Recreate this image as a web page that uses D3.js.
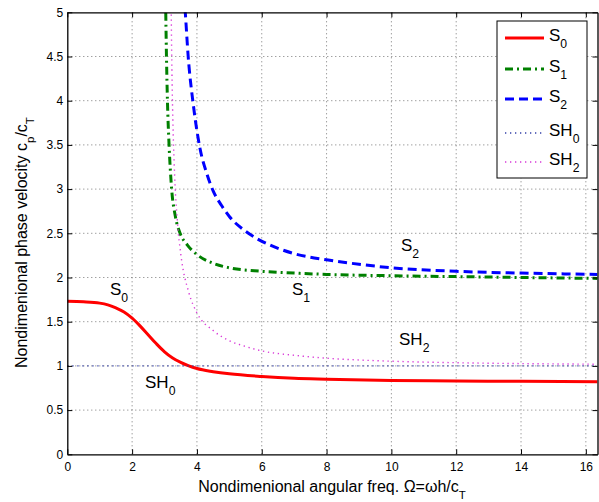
<!DOCTYPE html>
<html><head><meta charset="utf-8">
<script src="https://cdn.jsdelivr.net/npm/d3@7"></script>
<style>
body{margin:0;background:#fff}
svg text{font-family:"Liberation Sans",Arial,Helvetica,sans-serif;fill:#000}
</style></head><body>
<svg id="chart" width="599" height="502"></svg>
<script>
// Axis ticks
const xTicks = [0, 2, 4, 6, 8, 10, 12, 14, 16];
const yTicks = [0, 0.5, 1, 1.5, 2, 2.5, 3, 3.5, 4, 4.5, 5];
const yTickLabels = ["0", "0.5", "1", "1.5", "2", "2.5", "3", "3.5", "4", "4.5", "5"];

// Dispersion curves: nondimensional frequency vs. phase velocity
const s0Freq = [0, 0.5, 1.0, 1.25, 1.5, 1.75, 2.0, 2.25, 2.5, 2.75, 3.0, 3.25, 3.5, 3.75, 4.0, 4.5, 5.0, 6.0, 7.0, 8.0, 10, 12, 14, 16.36];
const s0Vel  = [1.73, 1.725, 1.71, 1.69, 1.655, 1.61, 1.54, 1.45, 1.35, 1.25, 1.16, 1.09, 1.04, 1.0, 0.97, 0.935, 0.91, 0.88, 0.86, 0.85, 0.835, 0.83, 0.825, 0.82];

const s1Freq = [3.03, 3.06, 3.09, 3.14, 3.22, 3.33, 3.48, 3.7, 4.0, 4.5, 5.0, 6.0, 7.0, 8.0, 10, 12, 14, 16.36];
const s1Vel  = [5.2, 4.5, 4.0, 3.5, 3.0, 2.7, 2.5, 2.37, 2.26, 2.16, 2.11, 2.07, 2.05, 2.035, 2.02, 2.01, 2.0, 1.99];

const s2Freq = [3.6, 3.64, 3.73, 3.89, 4.1, 4.3, 4.5, 4.75, 5.0, 5.44, 5.85, 6.3, 7.0, 8.0, 9.0, 10, 12, 14, 16.36];
const s2Vel  = [5.2, 5.0, 4.5, 3.95, 3.45, 3.18, 2.98, 2.82, 2.69, 2.54, 2.44, 2.36, 2.27, 2.2, 2.15, 2.11, 2.07, 2.05, 2.035];

const sh0Freq = [0, 16.36];
const sh0Vel  = [1.0, 1.0];

const sh2Freq = [3.2, 3.22, 3.25, 3.3, 3.4, 3.5, 3.75, 4.0, 4.5, 5.0, 5.5, 6.0, 7.0, 8.0, 9.0, 10, 12, 14, 16.36];
const sh2Vel  = [5.26, 4.56, 3.9, 3.27, 2.62, 2.27, 1.83, 1.6, 1.4, 1.285, 1.22, 1.17, 1.12, 1.087, 1.067, 1.053, 1.036, 1.026, 1.019];

const modes = [
  {name: "S", sub: "0", freq: s0Freq, vel: s0Vel, color: "#ff0000", width: 3, dash: null},
  {name: "S", sub: "1", freq: s1Freq, vel: s1Vel, color: "#008000", width: 3, dash: "8,4,2,4"},
  {name: "S", sub: "2", freq: s2Freq, vel: s2Vel, color: "#0000ff", width: 3, dash: "9,5"},
  {name: "SH", sub: "0", freq: sh0Freq, vel: sh0Vel, color: "#3440a8", width: 1.4, dash: "1.3,3.7"},
  {name: "SH", sub: "2", freq: sh2Freq, vel: sh2Vel, color: "#d838d8", width: 1.4, dash: "1.3,3.7"}
];

// In-plot curve labels
const curveLabels = [
  {name: "S", sub: "0", x: 110, y: 295},
  {name: "SH", sub: "0", x: 145, y: 388},
  {name: "S", sub: "1", x: 292, y: 295},
  {name: "S", sub: "2", x: 401, y: 251},
  {name: "SH", sub: "2", x: 399, y: 345}
];

const svg = d3.select("#chart");
const L = 67.3, R = 597.5, T = 12.3, B = 454.3;
const x = d3.scaleLinear().domain([0, 16.36]).range([L, R]);
const y = d3.scaleLinear().domain([0, 5]).range([B, T]);

// Write text with TeX-like subscripts
function richText(sel, parts, size) {
  parts.forEach(p => {
    if (typeof p === "string") {
      sel.append("tspan").attr("font-size", size).attr("dy", sel.property("_sub") ? -size * 0.42 : 0).text(p);
      sel.property("_sub", false);
    } else {
      sel.append("tspan").attr("font-size", size * 0.72).attr("dy", size * 0.42).text(p.sub);
      sel.property("_sub", true);
    }
  });
}

// Grid
const grid = svg.append("g").attr("stroke", "#555").attr("stroke-width", 0.8).attr("stroke-dasharray", "1,3");
grid.selectAll("line.gx").data(xTicks.filter(d => d > 0)).join("line")
  .attr("x1", d => x(d)).attr("x2", d => x(d)).attr("y1", B).attr("y2", T);
grid.selectAll("line.gy").data(yTicks.filter(d => d > 0 && d < 5)).join("line")
  .attr("y1", d => y(d)).attr("y2", d => y(d)).attr("x1", L).attr("x2", R);

// Curves
svg.append("clipPath").attr("id", "plotClip").append("rect")
  .attr("x", L).attr("y", T).attr("width", R - L).attr("height", B - T);
const line = d3.line().x(d => x(d[0])).y(d => y(d[1])).curve(d3.curveMonotoneX);
const curves = svg.append("g").attr("clip-path", "url(#plotClip)");
modes.forEach(m => {
  curves.append("path")
    .attr("d", line(d3.zip(m.freq, m.vel)))
    .attr("fill", "none").attr("stroke", m.color).attr("stroke-width", m.width)
    .attr("stroke-dasharray", m.dash);
});

// Axes (ticks inside, box on)
const fmtY = (d) => yTickLabels[yTicks.indexOf(d)];
const axB = svg.append("g").attr("transform", `translate(0,${B})`)
  .call(d3.axisBottom(x).tickValues(xTicks).tickSize(-5).tickPadding(8).tickSizeOuter(0));
const axL = svg.append("g").attr("transform", `translate(${L},0)`)
  .call(d3.axisLeft(y).tickValues(yTicks).tickFormat(fmtY).tickSize(-5).tickPadding(4).tickSizeOuter(0));
const axT = svg.append("g").attr("transform", `translate(0,${T})`)
  .call(d3.axisTop(x).tickValues(xTicks).tickSize(-5).tickFormat("").tickSizeOuter(0));
const axR = svg.append("g").attr("transform", `translate(${R},0)`)
  .call(d3.axisRight(y).tickValues(yTicks).tickSize(-5).tickFormat("").tickSizeOuter(0));
[axB, axL, axT, axR].forEach(a => {
  a.select(".domain").attr("stroke", "#000").attr("stroke-width", 1.3);
  a.selectAll(".tick line").attr("stroke", "#000").attr("stroke-width", 1);
  a.selectAll(".tick text").attr("font-size", 12).attr("font-family", "Liberation Sans, Arial, sans-serif").attr("fill", "#000");
});

// Axis titles
richText(svg.append("text").attr("x", 332).attr("y", 492).attr("text-anchor", "middle"),
  ["Nondimenional angular freq. \u03A9=\u03C9h/c", {sub: "T"}], 16);
richText(svg.append("text").attr("transform", "translate(27,368) rotate(-90)").attr("text-anchor", "start"),
  ["Nondimenional phase velocity c", {sub: "p"}, "/c", {sub: "T"}], 16);

// Curve labels
curveLabels.forEach(c => {
  richText(svg.append("text").attr("x", c.x).attr("y", c.y), [c.name, {sub: c.sub}], 17);
});

// Legend
const lg = svg.append("g");
lg.append("rect").attr("x", 497).attr("y", 21).attr("width", 90).attr("height", 157)
  .attr("fill", "#fff").attr("stroke", "#000").attr("stroke-width", 1);
const legendRows = [38, 69, 99, 133, 162];
modes.forEach((m, i) => {
  const yy = legendRows[i];
  lg.append("line").attr("x1", 505).attr("x2", 544).attr("y1", yy).attr("y2", yy)
    .attr("stroke", m.color).attr("stroke-width", m.width).attr("stroke-dasharray", m.dash);
  richText(lg.append("text").attr("x", 549).attr("y", yy + 3), [m.name, {sub: m.sub}], 17);
});
</script>
</body></html>
